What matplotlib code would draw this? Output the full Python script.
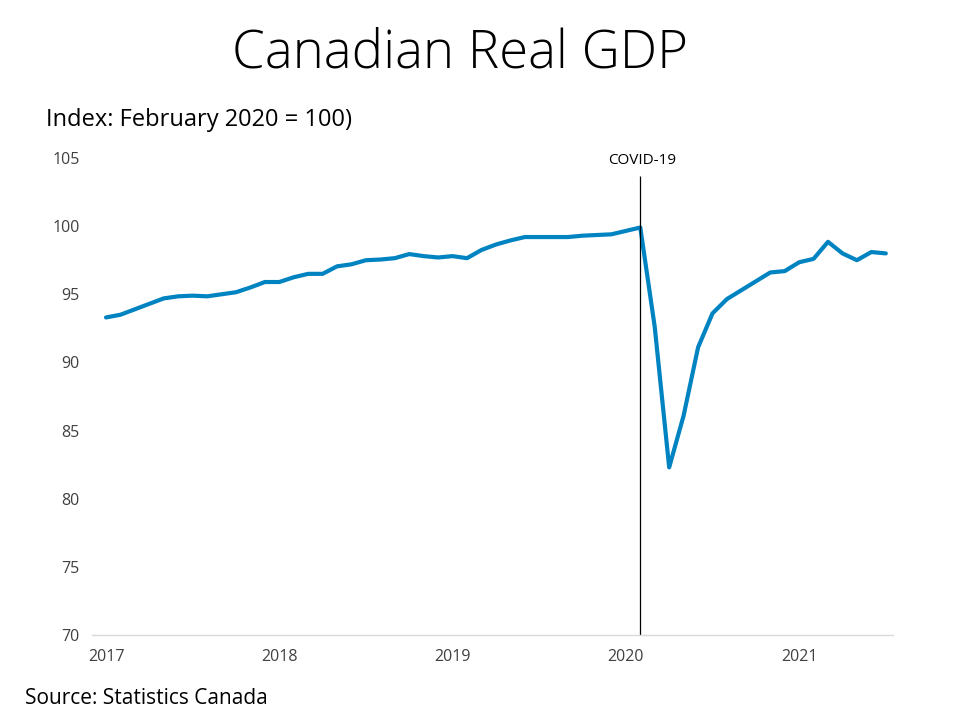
import matplotlib.pyplot as plt

# Monthly real GDP index (Feb 2020 = 100), Jan 2017 .. Jul 2021
gdp_2017 = [93.3, 93.5, 93.9, 94.3, 94.7, 94.85, 94.9, 94.85, 95.0, 95.15, 95.5, 95.9]
gdp_2018 = [95.9, 96.25, 96.5, 96.5, 97.05, 97.2, 97.5, 97.55, 97.65, 97.95, 97.8, 97.7]
gdp_2019 = [97.8, 97.65, 98.25, 98.65, 98.95, 99.2, 99.2, 99.2, 99.2, 99.3, 99.35, 99.4]
gdp_2020 = [99.65, 99.9, 92.6, 82.3, 86.1, 91.1, 93.6, 94.65, 95.3, 95.95, 96.6, 96.7]
gdp_2021 = [97.35, 97.6, 98.85, 98.0, 97.5, 98.1, 98.0]

years = ["2017", "2018", "2019", "2020", "2021"]
y_ticks = [70, 75, 80, 85, 90, 95, 100, 105]
covid_month = 37  # Feb 2020

gdp = gdp_2017 + gdp_2018 + gdp_2019 + gdp_2020 + gdp_2021
months = list(range(len(gdp)))

plt.rcParams['font.family'] = ['Open Sans', 'DejaVu Sans']

fig = plt.figure(figsize=(9.6, 7.2), dpi=100)
ax = fig.add_axes([92 / 960, 85 / 720, 801 / 960, 477 / 720])

ax.plot(months, gdp, color='#0083C1', linewidth=3, solid_capstyle='round', solid_joinstyle='round')

# COVID-19 marker
ax.vlines(covid_month, 70, 103.7, color='black', linewidth=0.9)
ax.text(covid_month + 0.1, 104.3, "COVID-19", ha='center', va='bottom', fontsize=11, color='black')

ax.set_xlim(-0.97, 54.5)
ax.set_ylim(70, 105)
ax.set_xticks([0, 12, 24, 36, 48])
ax.set_xticklabels(years)
ax.set_yticks(y_ticks)

for s in ['top', 'right', 'left']:
    ax.spines[s].set_visible(False)
ax.spines['bottom'].set_color('#D9D9D9')
ax.spines['bottom'].set_linewidth(1)
ax.tick_params(length=0, colors='#404040', labelsize=11.5)
ax.tick_params(axis='x', pad=10)
ax.tick_params(axis='y', pad=9)

fig.text(0.479, 0.925, "Canadian Real GDP", ha='center', va='center', fontsize=38, fontweight='light')
fig.text(46 / 960, 0.833, "Index: February 2020 = 100)", ha='left', va='center', fontsize=17)
fig.text(25 / 960, 0.030, "Source: Statistics Canada", ha='left', va='center', fontsize=15)

fig.savefig("out.png", dpi=100)
